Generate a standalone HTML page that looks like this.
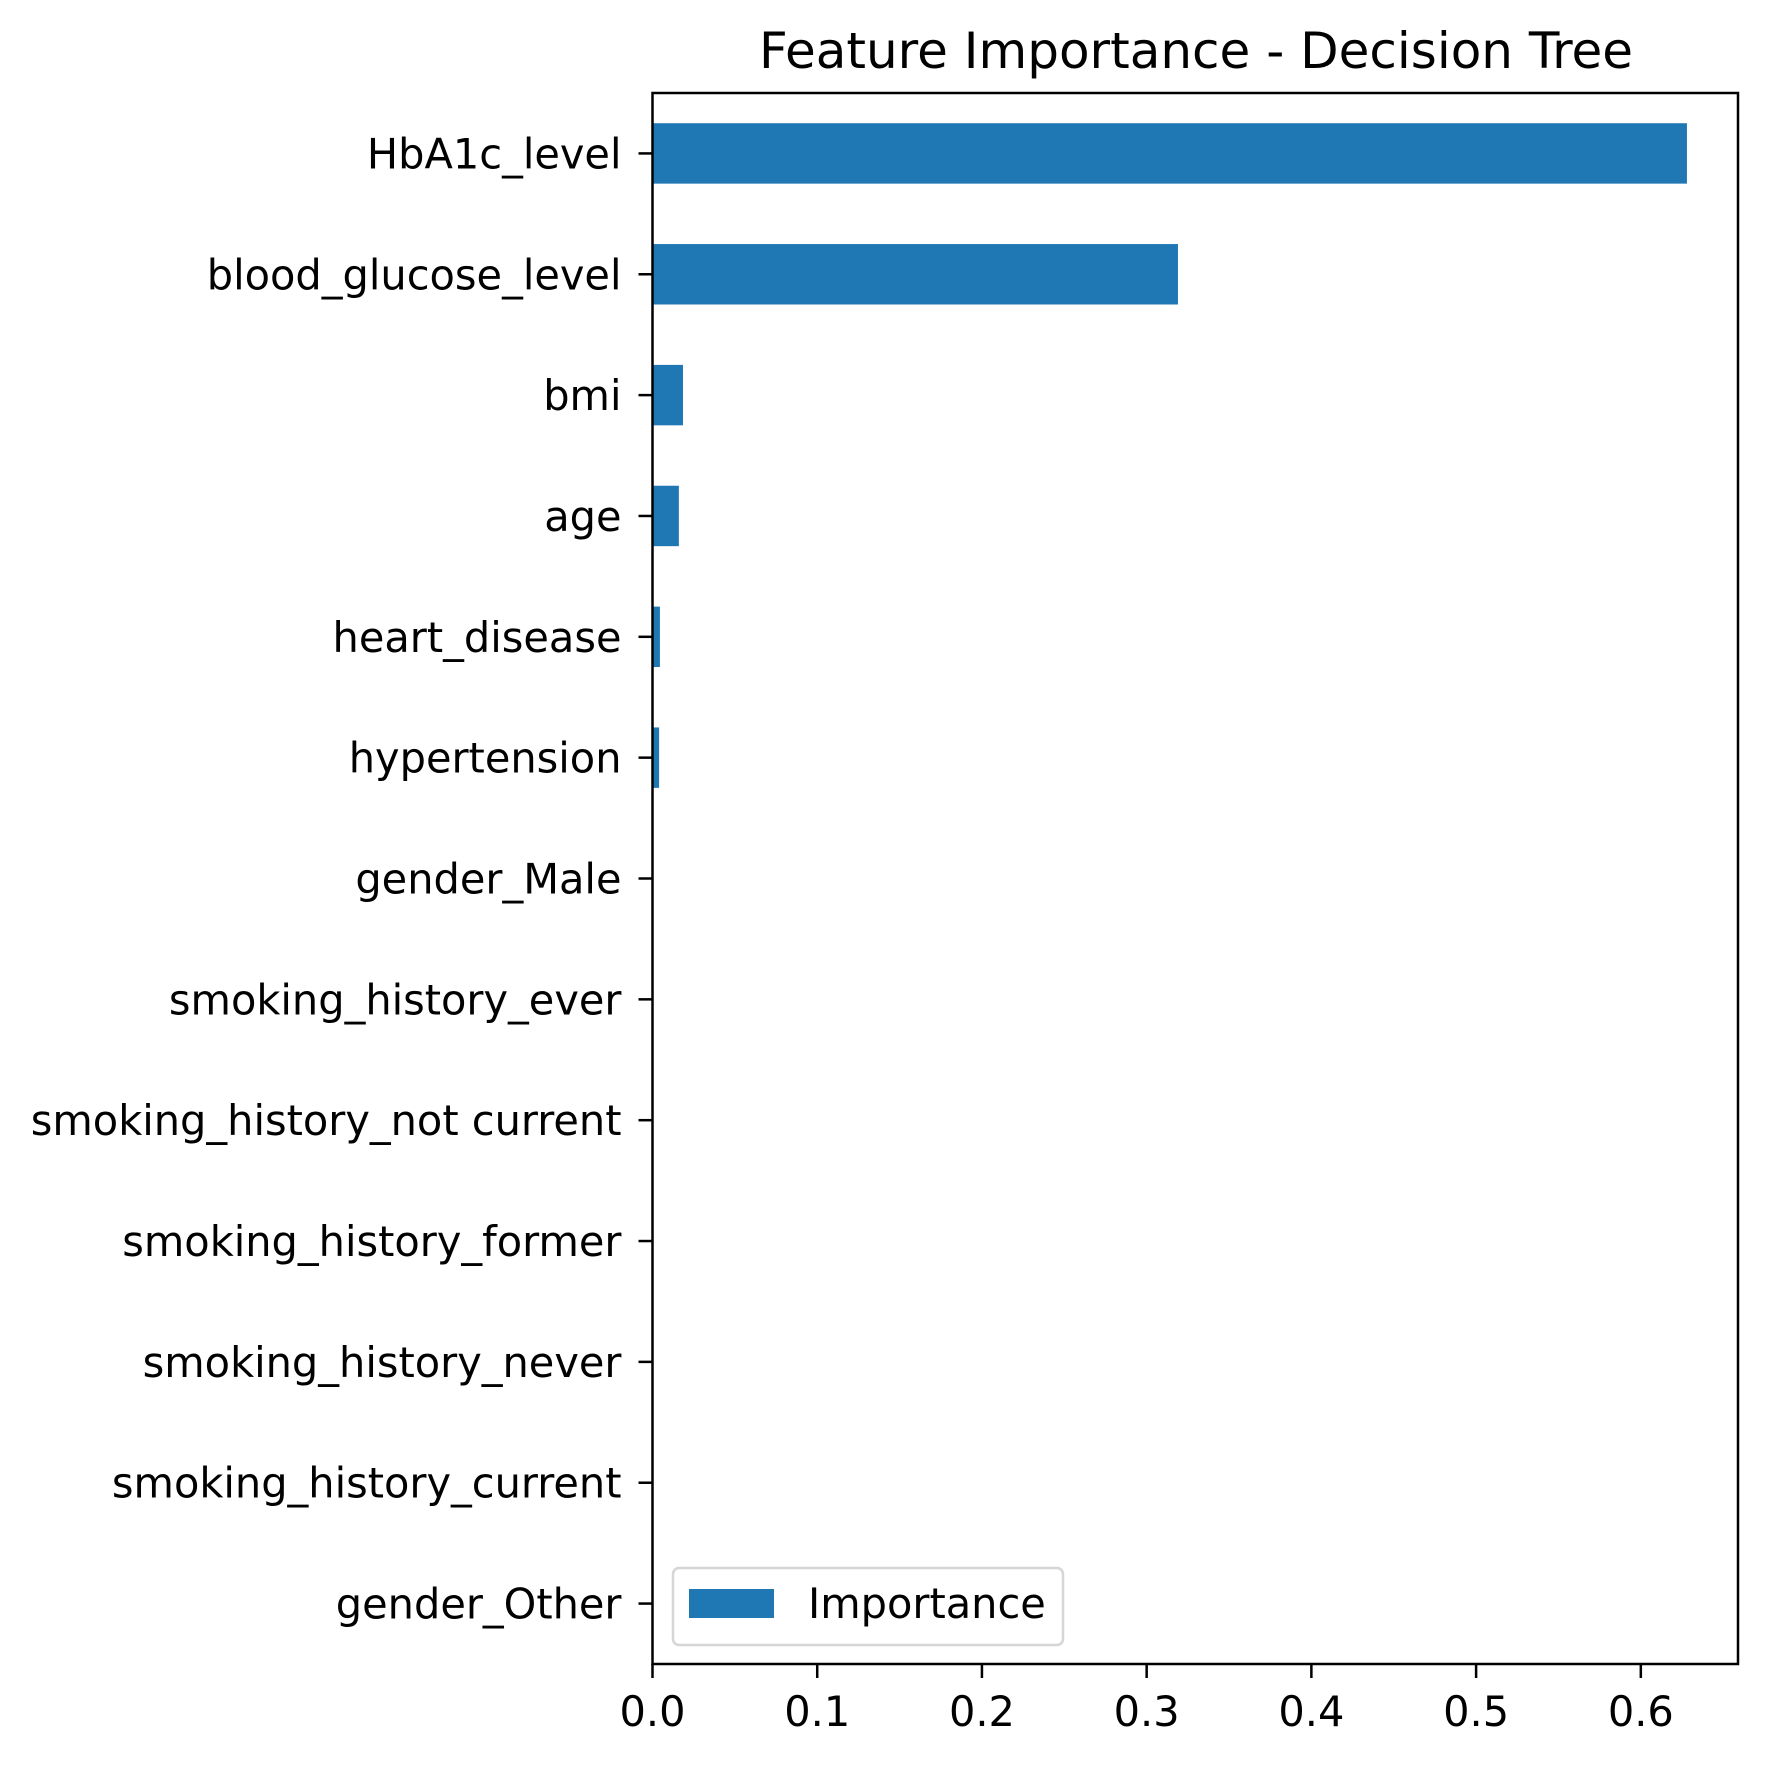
<!DOCTYPE html>
<html><head><meta charset="utf-8"><style>
html,body{margin:0;padding:0;background:#fff;}
svg{display:block;font-family:"DejaVu Sans","Liberation Sans",sans-serif;}
</style></head><body>
<svg id="chart" width="1769" height="1766" viewBox="0 0 1769 1766" xmlns="http://www.w3.org/2000/svg">
<rect width="1769" height="1766" fill="#fff"/>
<text x="1196" y="68" font-size="50" text-anchor="middle" fill="#000">Feature Importance - Decision Tree</text>
<g id="bars"></g>
<g id="yticks"></g>
<g id="xticks"></g>
<rect x="652.5" y="93" width="1085.5" height="1571" fill="none" stroke="#000" stroke-width="2.5"/>
<g>
<rect x="673" y="1568" width="390" height="77" rx="6" fill="#fff" fill-opacity="0.8" stroke="#d6d6d6" stroke-width="2.5"/>
<rect x="689" y="1589" width="85" height="29" fill="#1f77b4"/>
<text x="808" y="1618" font-size="41.5" fill="#000">Importance</text>
</g>
</svg>
<script>
const categories = ["HbA1c_level","blood_glucose_level","bmi","age","heart_disease","hypertension","gender_Male","smoking_history_ever","smoking_history_not current","smoking_history_former","smoking_history_never","smoking_history_current","gender_Other"];
const importance = [0.628, 0.319, 0.0185, 0.016, 0.0045, 0.004, 0, 0, 0, 0, 0, 0, 0];
const xTickValues = [0, 0.1, 0.2, 0.3, 0.4, 0.5, 0.6];
const xTickLabels = ["0.0","0.1","0.2","0.3","0.4","0.5","0.6"];

const NS = "http://www.w3.org/2000/svg";
const plotLeft = 652.5, plotRight = 1738, plotTop = 93, plotBottom = 1664;
const xMax = 0.659;
function xScale(v){ return plotLeft + v / xMax * (plotRight - plotLeft); }
const step = (plotBottom - plotTop) / categories.length;
function yCenter(i){ return plotTop + step * (i + 0.5); }

const gb = document.getElementById('bars');
const gy = document.getElementById('yticks');
const gx = document.getElementById('xticks');

categories.forEach((c, i) => {
  const yc = yCenter(i);
  const h = step * 0.5;
  const w = xScale(importance[i]) - plotLeft;
  if (w > 0) {
    const r = document.createElementNS(NS, 'rect');
    
    
    r.setAttribute('x', plotLeft);
    r.setAttribute('y', yc - h / 2);
    r.setAttribute('width', w);
    r.setAttribute('height', h);
    r.setAttribute('fill', '#1f77b4');
    gb.appendChild(r);
  }
  const t = document.createElementNS(NS, 'line');
  
  
  t.setAttribute('x1', plotLeft - 14); t.setAttribute('x2', plotLeft);
  t.setAttribute('y1', yc); t.setAttribute('y2', yc);
  t.setAttribute('stroke', '#000'); t.setAttribute('stroke-width', '2.5');
  gy.appendChild(t);
  const l = document.createElementNS(NS, 'text');
  
  
  l.setAttribute('x', plotLeft - 31);
  l.setAttribute('y', yc + 15);
  l.setAttribute('font-size', '41.5');
  l.setAttribute('text-anchor', 'end');
  l.textContent = c;
  gy.appendChild(l);
});

xTickValues.forEach((v, i) => {
  const x = xScale(v);
  const t = document.createElementNS(NS, 'line');
  
  
  t.setAttribute('x1', x); t.setAttribute('x2', x);
  t.setAttribute('y1', plotBottom); t.setAttribute('y2', plotBottom + 14);
  t.setAttribute('stroke', '#000'); t.setAttribute('stroke-width', '2.5');
  gx.appendChild(t);
  const l = document.createElementNS(NS, 'text');
  
  
  l.setAttribute('x', x);
  l.setAttribute('y', plotBottom + 62);
  l.setAttribute('font-size', '41.5');
  l.setAttribute('text-anchor', 'middle');
  l.textContent = xTickLabels[i];
  gx.appendChild(l);
});
</script>
</body></html>
